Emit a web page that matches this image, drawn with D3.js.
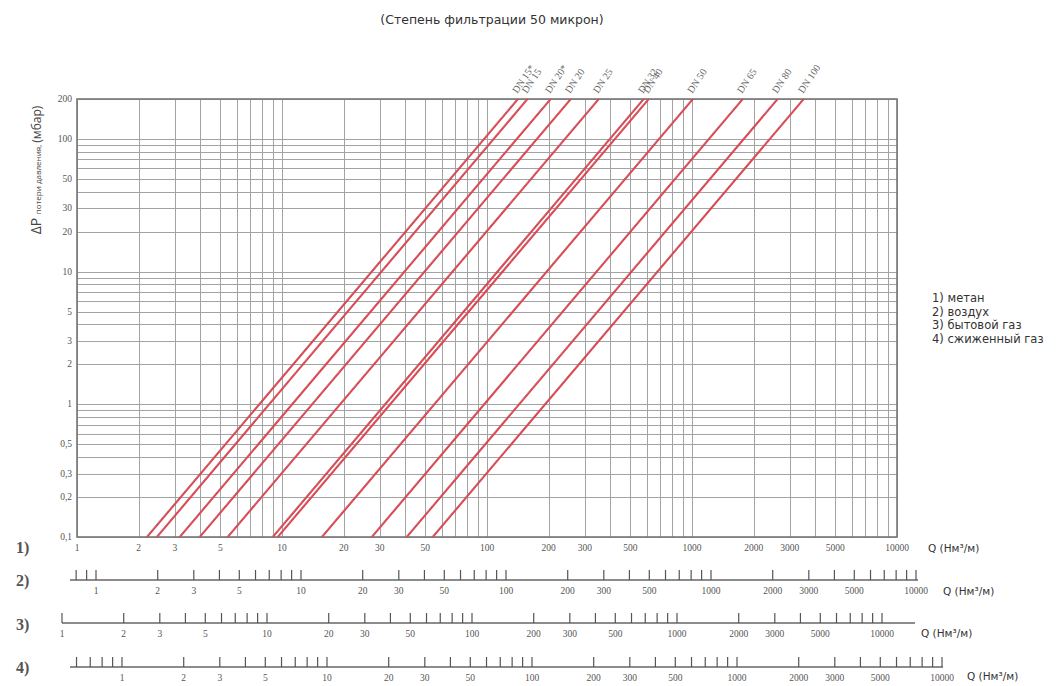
<!DOCTYPE html>
<html>
<head>
<meta charset="utf-8">
<script src="https://cdn.jsdelivr.net/npm/d3@7"></script>
<style>
  body { margin: 0; background: #fff; }
  svg { display: block; }
</style>
</head>
<body>
<svg id="chart" width="1058" height="686"></svg>
<script>
// data
var dnLabels = ["DN 15*", "DN 15", "DN 20*", "DN 20", "DN 25", "DN 32", "DN 40", "DN 50", "DN 65", "DN 80", "DN 100"];
// Q (methane) where each line crosses 0,1 mbar and 200 mbar
var qAtMin = [2.2, 2.46, 3.18, 3.98, 5.45, 9.04, 9.56, 15.7, 27.5, 40.7, 54.5];
var qAtMax = [142, 158, 205, 257, 352, 583, 617, 1013, 1774, 2625, 3516];

var yTicks = [200, 100, 50, 30, 20, 10, 5, 3, 2, 1, 0.5, 0.3, 0.2, 0.1];
var qLabels = [1, 2, 3, 5, 10, 20, 30, 50, 100, 200, 300, 500, 1000, 2000, 3000, 5000, 10000];
var gasNames = ["1) метан", "2) воздух", "3) бытовой газ", "4) сжиженный газ"];
var axisNums = ["1)", "2)", "3)", "4)"];
var minorStart = [1, 0.8, 1, 0.6];   // first small tick on each Q scale

var svg = d3.select("#chart");
var serif = "'Liberation Serif', 'DejaVu Serif', serif";
var sans = "'DejaVu Sans', 'Open Sans', sans-serif";

var x = d3.scaleLog().domain([1, 10000]).range([77, 897]);
var y = d3.scaleLog().domain([0.1, 200]).range([537, 99]);

function logTicks(lo, hi) {
    var out = [];
    for (var e = -2; e <= 4; e++) {
        for (var m = 1; m <= 9; m++) {
            var v = +(m * Math.pow(10, e)).toPrecision(3);
            if (v >= lo - 1e-9 && v <= hi + 1e-9) out.push(v);
        }
    }
    return out;
}
function fmt(v) { return String(v).replace(".", ","); }

// title
svg.append("text")
    .attr("x", 492).attr("y", 24)
    .attr("text-anchor", "middle")
    .style("font-family", sans).style("font-size", "12.5px").style("fill", "#333")
    .text("(Степень фильтрации 50 микрон)");

// grid
var grid = svg.append("g").attr("stroke", "#a3a3a3").attr("stroke-width", 1);
grid.selectAll("line.v")
    .data(logTicks(1, 10000))
    .enter().append("line")
    .attr("x1", function(d){ return Math.round(x(d)) + 0.5; })
    .attr("x2", function(d){ return Math.round(x(d)) + 0.5; })
    .attr("y1", y(200)).attr("y2", y(0.1));
grid.selectAll("line.h")
    .data(logTicks(0.1, 200))
    .enter().append("line")
    .attr("y1", function(d){ return Math.round(y(d)) + 0.5; })
    .attr("y2", function(d){ return Math.round(y(d)) + 0.5; })
    .attr("x1", x(1)).attr("x2", x(10000));

// frame
svg.append("rect")
    .attr("x", x(1)).attr("y", y(200))
    .attr("width", x(10000) - x(1)).attr("height", y(0.1) - y(200))
    .attr("fill", "none").attr("stroke", "#777").attr("stroke-width", 1.6);

// y tick labels
svg.selectAll("text.yl")
    .data(yTicks)
    .enter().append("text")
    .attr("x", 72).attr("y", function(d){ return y(d) + 3; })
    .attr("text-anchor", "end")
    .style("font-family", serif).style("font-size", "9.5px").style("fill", "#555")
    .text(fmt);

// y title
var yt = svg.append("text")
    .attr("transform", "translate(41,170) rotate(-90)")
    .attr("text-anchor", "middle")
    .style("font-family", "'Open Sans', sans-serif").style("fill", "#444");
yt.append("tspan").style("font-size", "14px").text("ΔP ");
yt.append("tspan").style("font-size", "8px").text("потери давления, ");
yt.append("tspan").style("font-size", "12px").text("(мбар)");

// pressure-loss lines
var lines = svg.append("g");
dnLabels.forEach(function(name, i) {
    lines.append("line")
        .attr("x1", x(qAtMin[i]) - 1.3).attr("y1", y(0.1))
        .attr("x2", x(qAtMax[i]) - 1.3).attr("y2", y(200))
        .attr("stroke", "#8c7a7a").attr("stroke-width", 0.8);
    lines.append("line")
        .attr("x1", x(qAtMin[i])).attr("y1", y(0.1))
        .attr("x2", x(qAtMax[i])).attr("y2", y(200))
        .attr("stroke", "#e5404c").attr("stroke-width", 1.7);
    svg.append("text")
        .attr("transform", "translate(" + (x(qAtMax[i]) - 1) + "," + (y(200) - 5) + ") rotate(-56)")
        .style("font-family", serif).style("font-size", "10px").style("fill", "#666")
        .text(name);
});

// main Q labels
svg.selectAll("text.xl")
    .data(qLabels)
    .enter().append("text")
    .attr("x", function(d){ return x(d); }).attr("y", 551)
    .attr("text-anchor", "middle")
    .style("font-family", serif).style("font-size", "9.5px").style("fill", "#555")
    .text(fmt);

// extra Q scales for other gases
var scales = [
    { start: 96, y: 580, lineFrom: 70, lineTo: 918 },
    { start: 62, y: 623, lineFrom: 62, lineTo: 915 },
    { start: 122, y: 667, lineFrom: 70, lineTo: 943 }
];
scales.forEach(function(s, k) {
    var sx = d3.scaleLog().domain([1, 10000]).range([s.start, s.start + 820]);
    var g = svg.append("g");
    g.append("line")
        .attr("x1", s.lineFrom).attr("x2", s.lineTo)
        .attr("y1", s.y).attr("y2", s.y)
        .attr("stroke", "#666").attr("stroke-width", 1.5);
    g.selectAll("line.t")
        .data(logTicks(minorStart[k + 1], 10000))
        .enter().append("line")
        .attr("x1", function(d){ return sx(d); }).attr("x2", function(d){ return sx(d); })
        .attr("y1", s.y).attr("y2", s.y - 10)
        .attr("stroke", "#555").attr("stroke-width", 1.2);
    g.selectAll("text")
        .data(qLabels)
        .enter().append("text")
        .attr("x", function(d){ return sx(d); }).attr("y", s.y + 14)
        .attr("text-anchor", "middle")
        .style("font-family", serif).style("font-size", "9.5px").style("fill", "#555")
        .text(fmt);
});

// "Q (Нм³/м)" captions
var qCaption = [[928, 552], [943, 595], [921, 637], [967, 680]];
qCaption.forEach(function(p) {
    svg.append("text")
        .attr("x", p[0]).attr("y", p[1])
        .style("font-family", sans).style("font-size", "10.5px").style("fill", "#333")
        .text("Q (Нм³/м)");
});

// row numbers
var numY = [553, 586, 630, 673];
axisNums.forEach(function(t, i) {
    svg.append("text")
        .attr("x", 16).attr("y", numY[i])
        .style("font-family", serif).style("font-size", "16px").style("font-weight", "bold").style("fill", "#555")
        .text(t);
});

// legend
svg.selectAll("text.lg")
    .data(gasNames)
    .enter().append("text")
    .attr("x", 932).attr("y", function(d, i){ return 302 + i * 13.5; })
    .style("font-family", sans).style("font-size", "11.5px").style("fill", "#333")
    .text(function(d){ return d; });
</script>
</body>
</html>
